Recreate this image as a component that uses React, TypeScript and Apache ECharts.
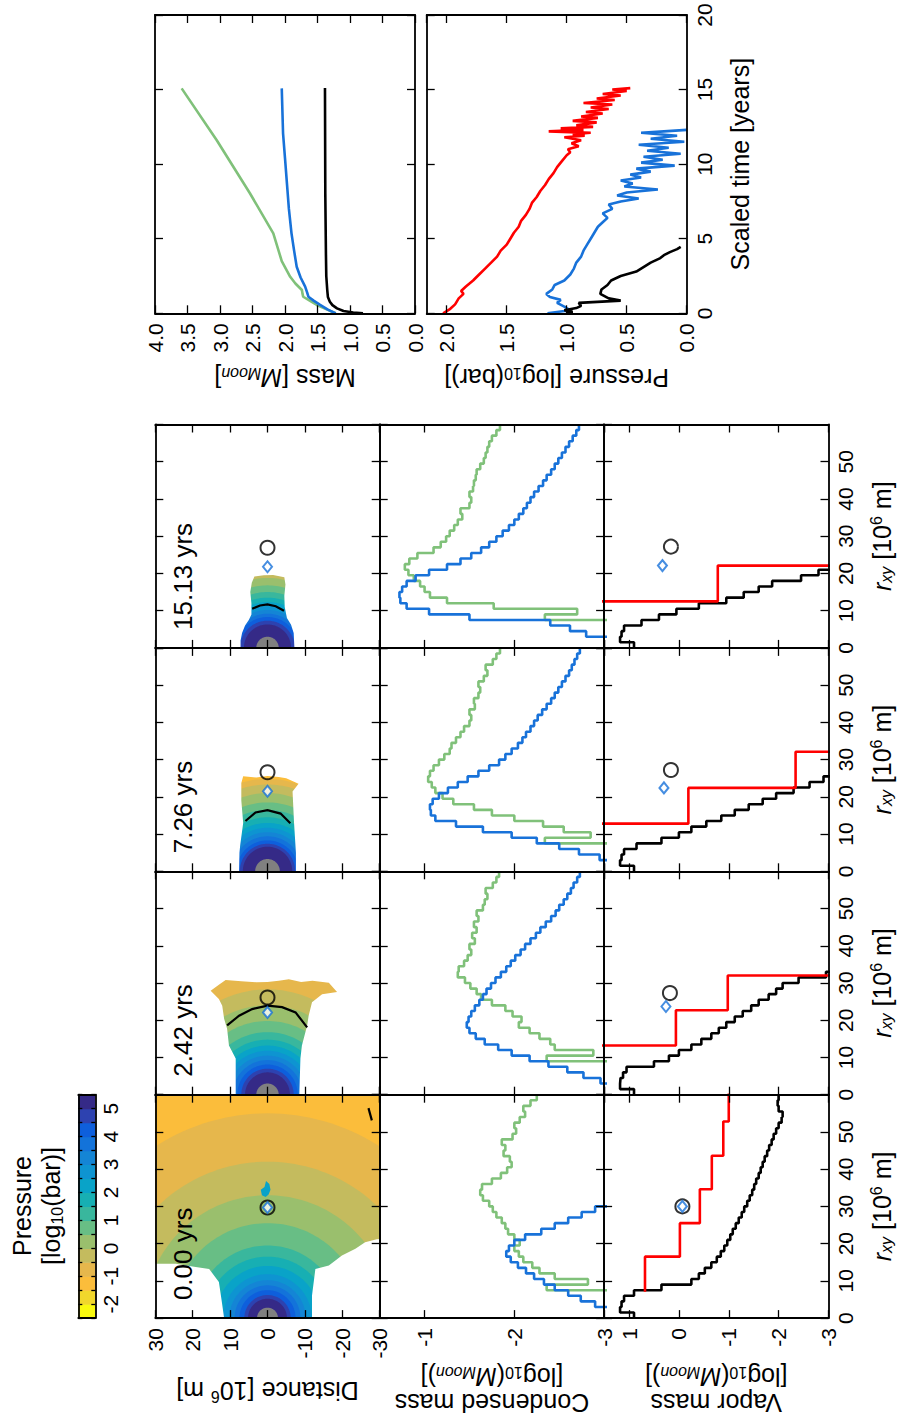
import React, { useEffect, useRef } from "react";
import * as echarts from "echarts";

const FONT = "'Liberation Sans', Arial, Helvetica, sans-serif";

// ---------------- data ----------------
const snapshotLabels = ["15.13 yrs", "7.26 yrs", "2.42 yrs", "0.00 yrs"]; // top band -> bottom band

// pressure colour levels, 0.5 wide, from -2.5 (yellow) to 5.5 (navy)
const pressureLevelColors = [
  "#f9f90f", "#f1d72c", "#fbbd3b", "#e6b74c", "#c4bb5e", "#9abf6d", "#68be85", "#39b79d",
  "#17afb3", "#09a3c8", "#0e94d1", "#1485d5", "#1373da", "#0e5fdc", "#2d42b0", "#352a87",
];
const colorbarMin = -2.5;
const colorbarMax = 5.5;
const colorbarStep = 0.5;

// outer radius (10^6 m) of each pressure level, per snapshot (0 = absent)
const levelRadius1513 = [0, 0, 0, 0, 60, 18.8, 16.8, 15, 13.5, 12.3, 11.2, 10.2, 9.2, 8.3, 7.3, 6.3];
const levelRadius726 = [0, 0, 60, 24.8, 23.3, 21, 18.5, 16.5, 14.5, 13, 11.7, 10.5, 9.4, 8.3, 7.4, 6.6];
const levelRadius242 = [0, 0, 0, 60, 28.3, 24, 19.8, 16.8, 14.8, 13.2, 11.8, 10.5, 9.3, 8.1, 7, 6];
const levelRadius000 = [0, 0, 200, 55, 42, 33, 25.5, 19.5, 16.5, 14, 11.8, 10.2, 8.8, 7.5, 6.2, 5.2];
const coreRadius = [3.0, 3.3, 3.0, 2.8];

// outline of the gas (distance d, r_xy), left-bottom -> over the top -> right-bottom
const blob1513 = [[7.2, 0], [7.2, 2], [6.8, 4], [6, 6], [5, 7.5], [4.3, 9], [4.3, 12], [4.6, 15], [4.2, 17.5], [3.5, 19.2], [1, 19.5], [-1.5, 19.6], [-4.5, 19], [-4.8, 17], [-4.5, 14], [-4.6, 11], [-5.2, 8], [-6.3, 6.2], [-7, 4], [-7.2, 0]];
const blob726 = [[7.6, 0], [7.5, 5], [7.3, 7], [6.5, 13], [7, 19], [7, 23.7], [6.5, 25.5], [3, 25.2], [0, 25.6], [-3, 25.3], [-5, 25], [-8.3, 23.5], [-6.7, 21.4], [-7.1, 13], [-7.6, 5], [-7.6, 0]];
const blob242 = [[8.5, 0], [8.5, 9.7], [10.3, 13.2], [10.8, 17.7], [11.6, 20.4], [12.1, 23.9], [13, 25.7], [15.2, 27.9], [13, 29.5], [11.2, 30.8], [7, 30.5], [3, 30.2], [0, 30.3], [-3, 30.6], [-5.7, 31], [-9, 30.3], [-12, 30.6], [-16.4, 30.1], [-18.6, 27.6], [-14.6, 27], [-11.9, 24.8], [-11, 21.2], [-10.6, 18.6], [-9.2, 13.2], [-8.8, 9.7], [-8.5, 0]];
const mask000Left = [[31, -1], [11.6, -1], [11.6, 0], [12.3, 5], [13, 9.7], [15.6, 13.2], [19.2, 13.7], [24.5, 14.6], [31, 14.6]];
const mask000Right = [[-11.9, -1], [-11.9, 6.1], [-12.8, 13.2], [-16.4, 14.1], [-19.9, 16.8], [-23.5, 18.6], [-26.1, 20.4], [-29.2, 21.2], [-31, 21.3], [-31, -1]];
const patch000 = [[1.5, 33], [1.8, 34.5], [0.8, 35.2], [0.4, 36.8], [-0.5, 36], [-0.8, 34.5], [-0.3, 33.2], [0.5, 32.5]];

// black arcs drawn on the maps
const arc1513 = [[4.1, 10.5], [2, 11.4], [0, 11.7], [-2.2, 11.2], [-4.4, 10.0]];
const arc726 = [[5.9, 13.5], [3.2, 15.8], [0, 16.4], [-3.5, 15.5], [-6.1, 12.9]];
const arc242 = [[10.8, 18.6], [7.6, 21.2], [4.1, 23.0], [0, 23.9], [-3.9, 23.5], [-7.5, 22.1], [-10.6, 18.1]];
const arc000 = [[-27.0, 56.4], [-27.9, 53.1]];

const mapCircleR = [26.9, 26.6, 26.1, 29.7];
const mapDiamondR = [21.8, 21.5, 22.1, 29.7];

// histograms, bins of 1.5 (10^6 m) starting at r_xy = 0
const BIN = 1.5;
const condBlue1513 = [-3.3, -3.1, -2.8, -2.62, -2.4, -1.5, -1.05, -0.8, -0.73, -0.72, -0.75, -0.8, -0.9, -1.05, -1.25, -1.4, -1.52, -1.63, -1.72, -1.8, -1.87, -1.94, -2.0, -2.05, -2.1, -2.14, -2.18, -2.22, -2.27, -2.32, -2.36, -2.41, -2.45, -2.49, -2.53, -2.57, -2.61, -2.65, -2.69, -2.72];
const condGreen1513 = [-3.3, -3.3, -3.3, -3.3, -3.3, -2.34, -2.7, -1.77, -1.25, -1.06, -1.0, -0.95, -0.88, -0.82, -0.78, -0.83, -0.92, -1.1, -1.18, -1.24, -1.28, -1.33, -1.37, -1.42, -1.4, -1.5, -1.52, -1.5, -1.54, -1.55, -1.57, -1.58, -1.62, -1.66, -1.68, -1.7, -1.72, -1.75, -1.8, -1.84];
const condBlue726 = [-3.3, -3.15, -2.95, -2.72, -2.5, -2.25, -1.97, -1.65, -1.35, -1.12, -1.07, -1.06, -1.09, -1.16, -1.26, -1.37, -1.48, -1.6, -1.72, -1.83, -1.9, -1.97, -2.04, -2.09, -2.13, -2.18, -2.22, -2.26, -2.31, -2.36, -2.41, -2.45, -2.49, -2.53, -2.57, -2.61, -2.64, -2.67, -2.7, -2.73];
const condGreen726 = [-3.3, -3.3, -3.3, -3.3, -3.3, -2.34, -2.85, -2.55, -2.32, -2.0, -1.75, -1.55, -1.32, -1.2, -1.12, -1.08, -1.04, -1.06, -1.1, -1.16, -1.22, -1.28, -1.3, -1.35, -1.4, -1.44, -1.5, -1.52, -1.5, -1.56, -1.55, -1.6, -1.62, -1.6, -1.66, -1.7, -1.68, -1.76, -1.8, -1.84];
const condBlue242 = [-3.3, -3.1, -2.96, -2.77, -2.59, -2.38, -2.17, -1.97, -1.82, -1.67, -1.57, -1.5, -1.47, -1.49, -1.52, -1.56, -1.61, -1.65, -1.69, -1.74, -1.79, -1.85, -1.91, -1.96, -2.01, -2.07, -2.12, -2.18, -2.24, -2.29, -2.35, -2.41, -2.46, -2.5, -2.55, -2.59, -2.63, -2.66, -2.7, -2.73];
const condGreen242 = [-3.3, -3.3, -3.3, -3.3, -3.3, -3.3, -2.36, -2.88, -2.45, -2.4, -2.28, -2.17, -2.05, -2.08, -1.98, -1.9, -1.75, -1.63, -1.58, -1.51, -1.45, -1.37, -1.38, -1.44, -1.48, -1.52, -1.5, -1.56, -1.53, -1.58, -1.55, -1.6, -1.58, -1.65, -1.67, -1.7, -1.68, -1.76, -1.8, -1.83];
const condBlue000 = [-3.2, -3.05, -2.9, -2.74, -2.6, -2.45, -2.33, -2.22, -2.13, -2.04, -1.96, -1.91, -1.94, -2.0, -2.12, -2.3, -2.45, -2.6, -2.75, -2.9, -3.05];
const condGreen000 = [-3.3, -3.3, -3.3, -3.3, -3.3, -2.36, -2.82, -2.45, -2.28, -2.2, -2.1, -2.05, -2.0, -2.06, -2.0, -1.93, -1.9, -1.86, -1.8, -1.76, -1.72, -1.65, -1.62, -1.64, -1.75, -1.85, -1.92, -1.97, -1.95, -1.88, -1.9, -1.86, -1.98, -2.02, -2.0, -2.06, -2.12, -2.1, -2.18, -2.25];

const vapBlack1513 = [0.9, 1.18, 1.15, 1.1, 0.75, 0.4, 0.05, -0.4, -0.95, -1.3, -1.6, -1.87, -2.45, -2.8, -3.3];
const vapBlack726 = [0.9, 1.18, 1.15, 1.1, 0.85, 0.35, 0.0, -0.25, -0.55, -0.85, -1.12, -1.4, -1.68, -1.95, -2.3, -2.62, -2.9, -3.3];
const vapBlack242 = [0.9, 1.18, 1.17, 1.12, 1.05, 0.5, 0.2, 0.0, -0.25, -0.45, -0.65, -0.8, -0.95, -1.12, -1.28, -1.45, -1.6, -1.8, -1.95, -2.08, -2.4, -2.95, -3.3];
const vapBlack000 = [0.9, 1.18, 1.15, 1.1, 0.9, 0.35, -0.25, -0.4, -0.52, -0.65, -0.76, -0.84, -0.91, -0.97, -1.03, -1.08, -1.14, -1.2, -1.26, -1.31, -1.37, -1.42, -1.47, -1.51, -1.55, -1.6, -1.64, -1.68, -1.72, -1.77, -1.81, -1.86, -1.9, -1.95, -2.0, -2.06, -2.08, -2.0, -1.98, -2.0];

const red1513Edges = [3, 12.5, 22.1, 62];
const red1513Vals = [2.2, -0.78, -3.5];
const red726Edges = [3, 12.8, 22.4, 32.1, 62];
const red726Vals = [2.2, -0.19, -2.34, -3.5];
const red242Edges = [3, 13.2, 22.7, 32, 62];
const red242Vals = [2.2, 0.06, -0.98, -3.5];
const red000Edges = [7.1, 16.5, 25.5, 34.6, 43.6, 52.8, 62];
const red000Vals = [0.68, -0.02, -0.42, -0.66, -0.89, -1.0];

const vapCircle = [[0.16, 27.2], [0.16, 27.2], [0.18, 27.3], [-0.07, 30]];
const vapDiamond = [[0.33, 22.1], [0.3, 22.4], [0.26, 23.7], [-0.07, 30]];

// time series: [scaled time (yr), value]
const massBlack = [[0, 0.8], [0.05, 0.95], [0.15, 1.1], [0.33, 1.2], [0.55, 1.27], [0.78, 1.31], [1.1, 1.34], [1.56, 1.35], [2.5, 1.365], [3.9, 1.37], [8, 1.38], [15.1, 1.385]];
const massBlue = [[0, 1.22], [0.25, 1.34], [0.56, 1.46], [0.85, 1.56], [1.11, 1.64], [1.4, 1.66], [1.79, 1.69], [2.4, 1.76], [3.12, 1.82], [4.2, 1.86], [5.36, 1.9], [7, 1.94], [8.7, 1.97], [10.4, 2.0], [12.07, 2.03], [15.08, 2.05]];
const massGreen = [[0, 1.22], [0.25, 1.35], [0.56, 1.51], [0.85, 1.62], [1.11, 1.72], [1.3, 1.73], [1.56, 1.74], [2.0, 1.84], [2.45, 1.92], [3.5, 2.05], [5.36, 2.18], [8.05, 2.54], [11.6, 3.05], [15.08, 3.59]];
const pressureRed = [[0, 2.03], [0.3, 1.97], [0.6, 1.93], [1.0, 1.9], [1.3, 1.86], [1.5, 1.88], [1.8, 1.84], [2.2, 1.78], [2.6, 1.73], [3.0, 1.68], [3.4, 1.63], [3.8, 1.58], [4.2, 1.55], [4.6, 1.5], [5.0, 1.47], [5.4, 1.44], [5.8, 1.4], [6.2, 1.38], [6.6, 1.34], [7.0, 1.31], [7.4, 1.29], [7.8, 1.25], [8.2, 1.22], [8.6, 1.18], [9.0, 1.15], [9.4, 1.11], [9.8, 1.08], [10.2, 1.04], [10.6, 1.0], [10.8, 0.97], [11.0, 0.99], [11.2, 0.9], [11.4, 0.96], [11.6, 0.88], [11.8, 1.02], [11.9, 0.85], [12.0, 0.95], [12.1, 0.8], [12.2, 1.15], [12.3, 0.86], [12.4, 1.05], [12.5, 0.78], [12.6, 0.92], [12.8, 0.75], [12.9, 0.95], [13.1, 0.74], [13.2, 0.88], [13.4, 0.7], [13.5, 0.84], [13.7, 0.65], [13.8, 0.8], [14.0, 0.62], [14.1, 0.86], [14.3, 0.6], [14.4, 0.75], [14.6, 0.55], [14.7, 0.7], [14.9, 0.5], [15.0, 0.62], [15.1, 0.47]];
const pressureBlue = [[0, 1.16], [0.2, 0.97], [0.45, 1.02], [0.7, 1.08], [0.9, 1.05], [1.1, 1.14], [1.3, 1.17], [1.6, 1.12], [1.9, 1.1], [2.2, 1.02], [2.6, 0.97], [3.0, 0.94], [3.4, 0.92], [3.8, 0.88], [4.2, 0.86], [4.6, 0.83], [5.0, 0.8], [5.4, 0.77], [5.8, 0.74], [6.1, 0.7], [6.4, 0.66], [6.7, 0.7], [7.0, 0.62], [7.3, 0.65], [7.5, 0.55], [7.7, 0.4], [7.9, 0.58], [8.1, 0.5], [8.3, 0.24], [8.5, 0.52], [8.7, 0.45], [8.9, 0.55], [9.1, 0.38], [9.3, 0.47], [9.5, 0.3], [9.7, 0.42], [9.9, 0.1], [10.1, 0.38], [10.3, 0.2], [10.5, 0.36], [10.7, 0.05], [10.9, 0.33], [11.1, 0.15], [11.3, 0.4], [11.5, 0.02], [11.7, 0.3], [11.9, 0.08], [12.1, 0.38], [12.3, 0.0]];
const pressureBlack = [[0, 1.0], [0.1, 0.95], [0.2, 1.02], [0.35, 0.92], [0.5, 0.88], [0.7, 0.9], [0.85, 0.55], [1.0, 0.65], [1.3, 0.72], [1.6, 0.71], [1.9, 0.66], [2.2, 0.63], [2.5, 0.55], [2.8, 0.42], [3.1, 0.36], [3.4, 0.3], [3.7, 0.22], [3.9, 0.19], [4.1, 0.14], [4.3, 0.08], [4.45, 0.05]];

// ---------------- styling / layout ----------------
const BLUE = "#1872d9";
const GREEN = "#80c17a";
const RED = "#ff0000";
const BAND_TOP = [424.5, 647.9, 871.3, 1094.7];
const BAND_H = 223.4;
const COL_LEFT = [155.3, 379.7, 604.1];
const COL_W = 224.4;

const levelRadii = [levelRadius1513, levelRadius726, levelRadius242, levelRadius000];
const outerBox = [[31, -1], [31, 61], [-31, 61], [-31, -1]];
const keyhole = (blob: number[][]) => [...outerBox, ...blob.slice().reverse()];
const mapMasks = [[keyhole(blob1513)], [keyhole(blob726)], [keyhole(blob242)], [mask000Left, mask000Right]];
const mapPatches: any[][] = [[], [], [], [{ pts: patch000, color: pressureLevelColors[9] }]];
const mapArcs = [arc1513, arc726, arc242, arc000];
const condBlue = [condBlue1513, condBlue726, condBlue242, condBlue000];
const condGreen = [condGreen1513, condGreen726, condGreen242, condGreen000];
const vapBlack = [vapBlack1513, vapBlack726, vapBlack242, vapBlack000];
const redEdges = [red1513Edges, red726Edges, red242Edges, red000Edges];
const redVals = [red1513Vals, red726Vals, red242Vals, red000Vals];

const binSteps = (vals: number[]) => {
  const out: number[][] = [];
  vals.forEach((v, i) => { out.push([v, i * BIN]); out.push([v, (i + 1) * BIN]); });
  return out;
};
const edgeSteps = (edges: number[], vals: number[]) => {
  const out: number[][] = [];
  vals.forEach((v, i) => { out.push([v, edges[i]]); out.push([v, edges[i + 1]]); });
  return out;
};
const swap = (arr: number[][]) => arr.map(([t, v]) => [v, t]);

const rich: any = {
  sub: { fontSize: 16, verticalAlign: "bottom", fontFamily: FONT, color: "#000" },
  sup: { fontSize: 16, verticalAlign: "top", fontFamily: FONT, color: "#000" },
  it: { fontSize: 25, fontStyle: "italic", fontFamily: FONT, color: "#000" },
  itsub: { fontSize: 16, fontStyle: "italic", verticalAlign: "bottom", fontFamily: FONT, color: "#000" },
};

function axisPair(kind: "x" | "y", g: number, o: any) {
  const positions = kind === "x" ? ["bottom", "top"] : ["left", "right"];
  const labelSide = kind === "x" ? "bottom" : "right";
  return positions.map((pos) => {
    const lab = pos === labelSide && !!o.labels;
    const axisLabel: any = {
      show: lab, rotate: 90, margin: o.margin ?? (kind === "x" ? 10 : 7),
      color: "#000", fontSize: 21, fontFamily: FONT,
    };
    if (o.formatter) axisLabel.formatter = o.formatter;
    if (o.hideMax) axisLabel.showMaxLabel = false;
    const ax: any = {
      gridIndex: g, type: "value", position: pos, min: o.min, max: o.max, interval: o.interval,
      inverse: !!o.inverse, z: 10,
      axisLine: { show: true, onZero: false, lineStyle: { color: "#000", width: 1.8 } },
      axisTick: { show: o.ticks !== false, inside: true, length: o.tickLen ?? 8, lineStyle: { color: "#000", width: 1.3 } },
      splitLine: { show: false },
      axisLabel,
    };
    if (lab && o.name) {
      Object.assign(ax, {
        name: o.name, nameLocation: "middle", nameGap: o.nameGap, nameRotate: kind === "x" ? 180 : 90,
        nameMoveOverlap: false,
        nameTextStyle: { color: "#000", fontSize: 25, fontFamily: FONT, lineHeight: 26, rich },
      });
    }
    return ax;
  });
}

function semicircle(api: any, R: number) {
  const pts: number[][] = [];
  for (let i = 0; i <= 90; i++) {
    const th = (Math.PI * i) / 90;
    pts.push(api.coord([R * Math.cos(th), R * Math.sin(th)]));
  }
  return pts;
}

function mapRenderer(b: number) {
  return (_params: any, api: any) => {
    const children: any[] = [];
    levelRadii[b].forEach((R, k) => {
      if (R > 0) children.push({ type: "polygon", shape: { points: semicircle(api, R) }, style: { fill: pressureLevelColors[k] } });
    });
    children.push({ type: "polygon", shape: { points: semicircle(api, coreRadius[b]) }, style: { fill: "#808080" } });
    mapPatches[b].forEach((p) => {
      children.push({ type: "polygon", shape: { points: p.pts.map((q: number[]) => api.coord(q)) }, style: { fill: p.color } });
    });
    mapMasks[b].forEach((m) => {
      children.push({ type: "polygon", shape: { points: m.map((q) => api.coord(q)) }, style: { fill: "#fff" } });
    });
    children.push({
      type: "polyline", shape: { points: mapArcs[b].map((q) => api.coord(q)) },
      style: { stroke: "#000", lineWidth: 2.2, fill: null },
    });
    return { type: "group", children };
  };
}

const lineSeries = (g: number, data: number[][], color: string, width = 2.5) => ({
  type: "line", xAxisIndex: 2 * g, yAxisIndex: 2 * g, data, symbol: "none", showSymbol: false,
  lineStyle: { color, width }, itemStyle: { color }, clip: true, silent: true, z: 3, animation: false,
});
const circleMarker = (g: number, pt: number[]) => ({
  type: "scatter", xAxisIndex: 2 * g, yAxisIndex: 2 * g, data: [pt], symbol: "circle", symbolSize: 14,
  itemStyle: { color: "rgba(255,255,255,0)", borderColor: "#000", borderWidth: 2 }, silent: true, z: 4,
});
const diamondMarker = (g: number, pt: number[]) => ({
  type: "scatter", xAxisIndex: 2 * g, yAxisIndex: 2 * g, data: [pt], symbol: "diamond", symbolSize: [9, 11],
  itemStyle: { color: "#fff", borderColor: BLUE, borderWidth: 2 }, silent: true, z: 5,
});

function buildOption() {
  const grids: any[] = [];
  const xAxes: any[] = [];
  const yAxes: any[] = [];
  const series: any[] = [];
  const fmt1 = (v: number) => v.toFixed(1);
  const massName = "Condensed mass\n[log{sub|10}({it|M}{itsub|Moon})]";
  const vapName = "Vapor mass\n[log{sub|10}({it|M}{itsub|Moon})]";

  for (let b = 0; b < 4; b++) {
    const bottom = b === 3;
    for (let c = 0; c < 3; c++) {
      grids.push({ left: COL_LEFT[c], top: BAND_TOP[b], width: COL_W, height: BAND_H, outerBoundsMode: "none" });
    }
    const gMap = 3 * b, gCond = 3 * b + 1, gVap = 3 * b + 2;
    xAxes.push(...axisPair("x", gMap, { min: -30, max: 30, interval: 10, inverse: true, labels: bottom, name: "Distance [10{sup|6} m]", nameGap: 60 }));
    yAxes.push(...axisPair("y", gMap, { min: 0, max: 60, interval: 10 }));
    xAxes.push(...axisPair("x", gCond, { min: -3, max: -0.5, interval: 1, inverse: true, labels: bottom, hideMax: true, name: massName, nameGap: 46 }));
    yAxes.push(...axisPair("y", gCond, { min: 0, max: 60, interval: 10 }));
    xAxes.push(...axisPair("x", gVap, { min: -3, max: 1.5, interval: 1, inverse: true, labels: bottom, hideMax: true, name: vapName, nameGap: 46 }));
    yAxes.push(...axisPair("y", gVap, { min: 0, max: 60, interval: 10, labels: true, hideMax: true, name: "{it|r}{itsub|xy} [10{sup|6} m]", nameGap: 40, margin: 6 }));

    series.push({ type: "custom", xAxisIndex: 2 * gMap, yAxisIndex: 2 * gMap, data: [[0, 0]], clip: true, silent: true, z: 2, renderItem: mapRenderer(b) });
    series.push(circleMarker(gMap, [0, mapCircleR[b]]));
    series.push(diamondMarker(gMap, [0, mapDiamondR[b]]));

    series.push(lineSeries(gCond, binSteps(condGreen[b]), GREEN, 2.6));
    series.push(lineSeries(gCond, binSteps(condBlue[b]), BLUE, 2.6));

    series.push(lineSeries(gVap, binSteps(vapBlack[b]), "#000", 2.6));
    series.push(lineSeries(gVap, edgeSteps(redEdges[b], redVals[b]), RED, 2.6));
    series.push(circleMarker(gVap, vapCircle[b]));
    series.push(diamondMarker(gVap, vapDiamond[b]));
  }

  // mass panel (12) and pressure panel (13)
  grids.push({ left: 155, top: 15, width: 260, height: 298.3, outerBoundsMode: "none" });
  grids.push({ left: 426.7, top: 15, width: 260, height: 298.3, outerBoundsMode: "none" });
  xAxes.push(...axisPair("x", 12, { min: 0, max: 4, interval: 0.5, inverse: true, labels: true, formatter: fmt1, name: "Mass [{it|M}{itsub|Moon}]", nameGap: 52 }));
  yAxes.push(...axisPair("y", 12, { min: 0, max: 20, interval: 5 }));
  xAxes.push(...axisPair("x", 13, { min: 0, max: 2.1667, interval: 0.5, inverse: true, labels: true, hideMax: true, formatter: fmt1, name: "Pressure [log{sub|10}(bar)]", nameGap: 52 }));
  yAxes.push(...axisPair("y", 13, { min: 0, max: 20, interval: 5, labels: true, name: "Scaled time [years]", nameGap: 40, margin: 7 }));
  series.push(lineSeries(12, swap(massGreen), GREEN, 2.6));
  series.push(lineSeries(12, swap(massBlue), BLUE, 2.6));
  series.push(lineSeries(12, swap(massBlack), "#000", 2.6));
  series.push(lineSeries(13, swap(pressureRed), RED, 2.6));
  series.push(lineSeries(13, swap(pressureBlue), BLUE, 2.6));
  series.push(lineSeries(13, swap(pressureBlack), "#000", 2.6));

  // colour bar (14)
  grids.push({ left: 78.3, top: 1094.7, width: 17, height: 223.4, outerBoundsMode: "none" });
  xAxes.push(...axisPair("x", 14, { min: 0, max: 1, interval: 1, ticks: false }));
  yAxes.push(...axisPair("y", 14, {
    min: colorbarMin, max: colorbarMax, interval: colorbarStep, labels: true, tickLen: 4, margin: 5,
    formatter: (v: number) => (Math.abs(v - Math.round(v)) < 1e-6 ? String(Math.round(v)) : ""),
  }));
  series.push({
    type: "custom", xAxisIndex: 28, yAxisIndex: 28, data: [[0, 0]], clip: true, silent: true, z: 2,
    renderItem: (_p: any, api: any) => ({
      type: "group",
      children: pressureLevelColors.map((col, k) => {
        const lo = colorbarMin + k * colorbarStep;
        const p0 = api.coord([0, lo]);
        const p1 = api.coord([1, lo + colorbarStep]);
        return { type: "rect", shape: { x: p0[0], y: p1[1], width: p1[0] - p0[0], height: p0[1] - p1[1] + 0.6 }, style: { fill: col } };
      }),
    }),
  });

  const graphics: any[] = snapshotLabels.map((t, b) => ({
    type: "text", x: 183, y: BAND_TOP[b] + BAND_H - 18, rotation: Math.PI / 2, z: 20,
    style: { text: t, fill: "#000", fontSize: 26, fontFamily: FONT, align: "left", textAlign: "left", verticalAlign: "middle", textVerticalAlign: "middle" },
  }));
  graphics.push({
    type: "text", x: 36, y: 1206, rotation: Math.PI / 2, z: 20,
    style: {
      text: "Pressure\n[log{sub|10}(bar)]", fill: "#000", fontSize: 25, fontFamily: FONT, lineHeight: 29,
      align: "center", textAlign: "center", verticalAlign: "middle", textVerticalAlign: "middle", rich,
    },
  });

  return {
    animation: false,
    backgroundColor: "#fff",
    textStyle: { fontFamily: FONT },
    grid: grids,
    xAxis: xAxes,
    yAxis: yAxes,
    series,
    graphic: { elements: graphics },
  };
}

export default function App() {
  const ref = useRef<HTMLDivElement>(null);
  useEffect(() => {
    const chart = echarts.init(ref.current as HTMLDivElement, null, { renderer: "svg", width: 900, height: 1423 });
    chart.setOption(buildOption() as any);
    return () => chart.dispose();
  }, []);
  return <div ref={ref} style={{ position: "absolute", left: 0, top: 0, width: 900, height: 1423, background: "#fff" }} />;
}
